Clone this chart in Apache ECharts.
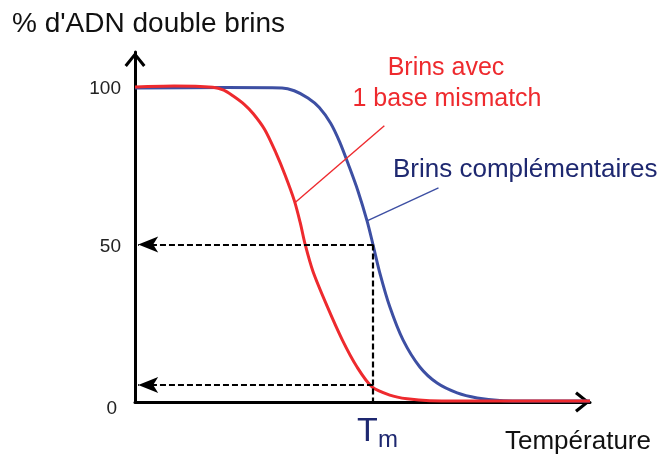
<!DOCTYPE html>
<html><head><meta charset="utf-8">
<script src="https://cdn.jsdelivr.net/npm/echarts@6/dist/echarts.min.js"></script>
<style>html,body{margin:0;padding:0;background:#fff}#c{width:666px;height:459px}</style>
</head><body><div id="c"></div>
<script>
// Data (x = temperature, arbitrary units 0-100; y = % double-stranded DNA)
const blueX = [0, 20, 32.3, 35, 38, 40.5, 43, 45, 47, 49, 51, 52.3, 53.8, 56.0, 58.9, 62.6, 66.4, 70.8, 75.2, 80.2, 90, 100];
const blueY = [99.7, 99.8, 99.7, 98.8, 96.5, 93.5, 88.5, 82.5, 75, 67, 57.5, 50, 41.0, 30.2, 19.7, 11.1, 6.0, 2.9, 1.3, 0.5, 0.3, 0.3];
const redX  = [0, 8.6, 17.1, 19.5, 21.5, 24, 26, 28.5, 31, 33, 35, 36.3, 37.4, 39.1, 42.2, 45.5, 48.8, 52.1, 56.0, 59.8, 64.8, 80, 100];
const redY  = [100, 100.3, 99.9, 99, 97.2, 94.5, 91.5, 86.5, 79, 72, 64, 57, 50, 41.5, 30.5, 19.9, 11.1, 4.8, 2.2, 1.0, 0.4, 0.3, 0.3];
const yTickLabels = [0, 50, 100];
const tm = 52.3;          // melting temperature
const halfLevel = 50;     // 50 % double strands
const mismatchAtTm = 5.4; // % of mismatch strands at Tm
const redLeader = [[35.2, 63.3], [54.8, 87.7]];
const blueLeader = [[51.0, 57.5], [66.7, 68.0]];

const FONT = "'Liberation Sans', Arial, sans-serif";
const RED = '#ee2a2e', BLUE = '#3d4fa3', NAVY = '#1e2870';
const chevron = 'path://M10.5,0 L21,13 L18.6,15 L10.5,4.8 L2.4,15 L0,13 Z';
const arrowInset = 0.7;

const zip = (xs, ys) => xs.map((x, i) => [x, ys[i]]);
const chart = echarts.init(document.getElementById('c'));
const dash = {color: '#000', width: 2.2, type: [6, 3]};
const lblRich = {
  n: {fontSize: 19, fontFamily: FONT, color: '#222', padding: [4, 0, 0, 0]},
  low: {fontSize: 19, fontFamily: FONT, color: '#222', padding: [14, 4, 0, 0]}
};
chart.setOption({
  animation: false,
  grid: {left: 135, right: 76, top: 52, bottom: 57},
  xAxis: {
    type: 'value', min: 0, max: 100,
    axisLine: {show: true, lineStyle: {color: '#000', width: 3}, symbol: ['none', chevron], symbolSize: [21, 15], symbolOffset: [0, -7.5]},
    axisTick: {show: false}, axisLabel: {show: false}, splitLine: {show: false}
  },
  yAxis: {
    type: 'value', min: 0, max: 111.1, interval: 50,
    axisLine: {show: true, lineStyle: {color: '#000', width: 3}, symbol: ['none', chevron], symbolSize: [21, 15], symbolOffset: [0, -7.5]},
    axisTick: {show: false}, splitLine: {show: false},
    axisLabel: {
      margin: 14, fontSize: 19, fontFamily: FONT, color: '#222',
      formatter: v => yTickLabels.includes(v) ? (v === 0 ? '{low|0}' : '{n|' + v + '}') : '',
      rich: lblRich
    }
  },
  series: [
    {type: 'line', data: zip(blueX, blueY), smooth: 0.3, showSymbol: false, z: 3,
     lineStyle: {color: BLUE, width: 3}},
    {type: 'line', data: zip(redX, redY), smooth: 0.3, showSymbol: false, z: 4,
     lineStyle: {color: RED, width: 3}},
    {type: 'line', data: redLeader, showSymbol: false, z: 4, lineStyle: {color: RED, width: 1.4}},
    {type: 'line', data: blueLeader, showSymbol: false, z: 4, lineStyle: {color: BLUE, width: 1.4}},
    {type: 'line', data: [], z: 5,
     markLine: {
       silent: true, animation: false, label: {show: false},
       symbol: ['none', 'arrow'], symbolSize: [12, 20],
       lineStyle: dash,
       data: [
         [{coord: [tm, halfLevel]}, {coord: [arrowInset, halfLevel]}],
         [{coord: [tm, mismatchAtTm]}, {coord: [arrowInset, mismatchAtTm]}],
         [{coord: [tm, halfLevel], symbol: 'none'}, {coord: [tm, 0], symbol: 'none'}]
       ]
     }}
  ],
  graphic: [
    {type: 'text', left: 12, top: 10, style: {text: "% d'ADN double brins", font: `28px ${FONT}`, fill: '#111'}},
    {type: 'text', x: 446, y: 56, style: {text: 'Brins avec', font: `25px ${FONT}`, fill: RED, align: 'center'}},
    {type: 'text', x: 447, y: 87, style: {text: '1 base mismatch', font: `25px ${FONT}`, fill: RED, align: 'center'}},
    {type: 'text', x: 393, y: 157, style: {text: 'Brins complémentaires', font: `26px ${FONT}`, fill: NAVY}},
    {type: 'text', x: 505, y: 429, style: {text: 'Température', font: `26px ${FONT}`, fill: '#111'}},
    {type: 'text', x: 357, y: 415, style: {text: 'T', font: `34px ${FONT}`, fill: NAVY}},
    {type: 'text', x: 378, y: 428, style: {text: 'm', font: `24px ${FONT}`, fill: NAVY}}
  ]
});
</script></body></html>
